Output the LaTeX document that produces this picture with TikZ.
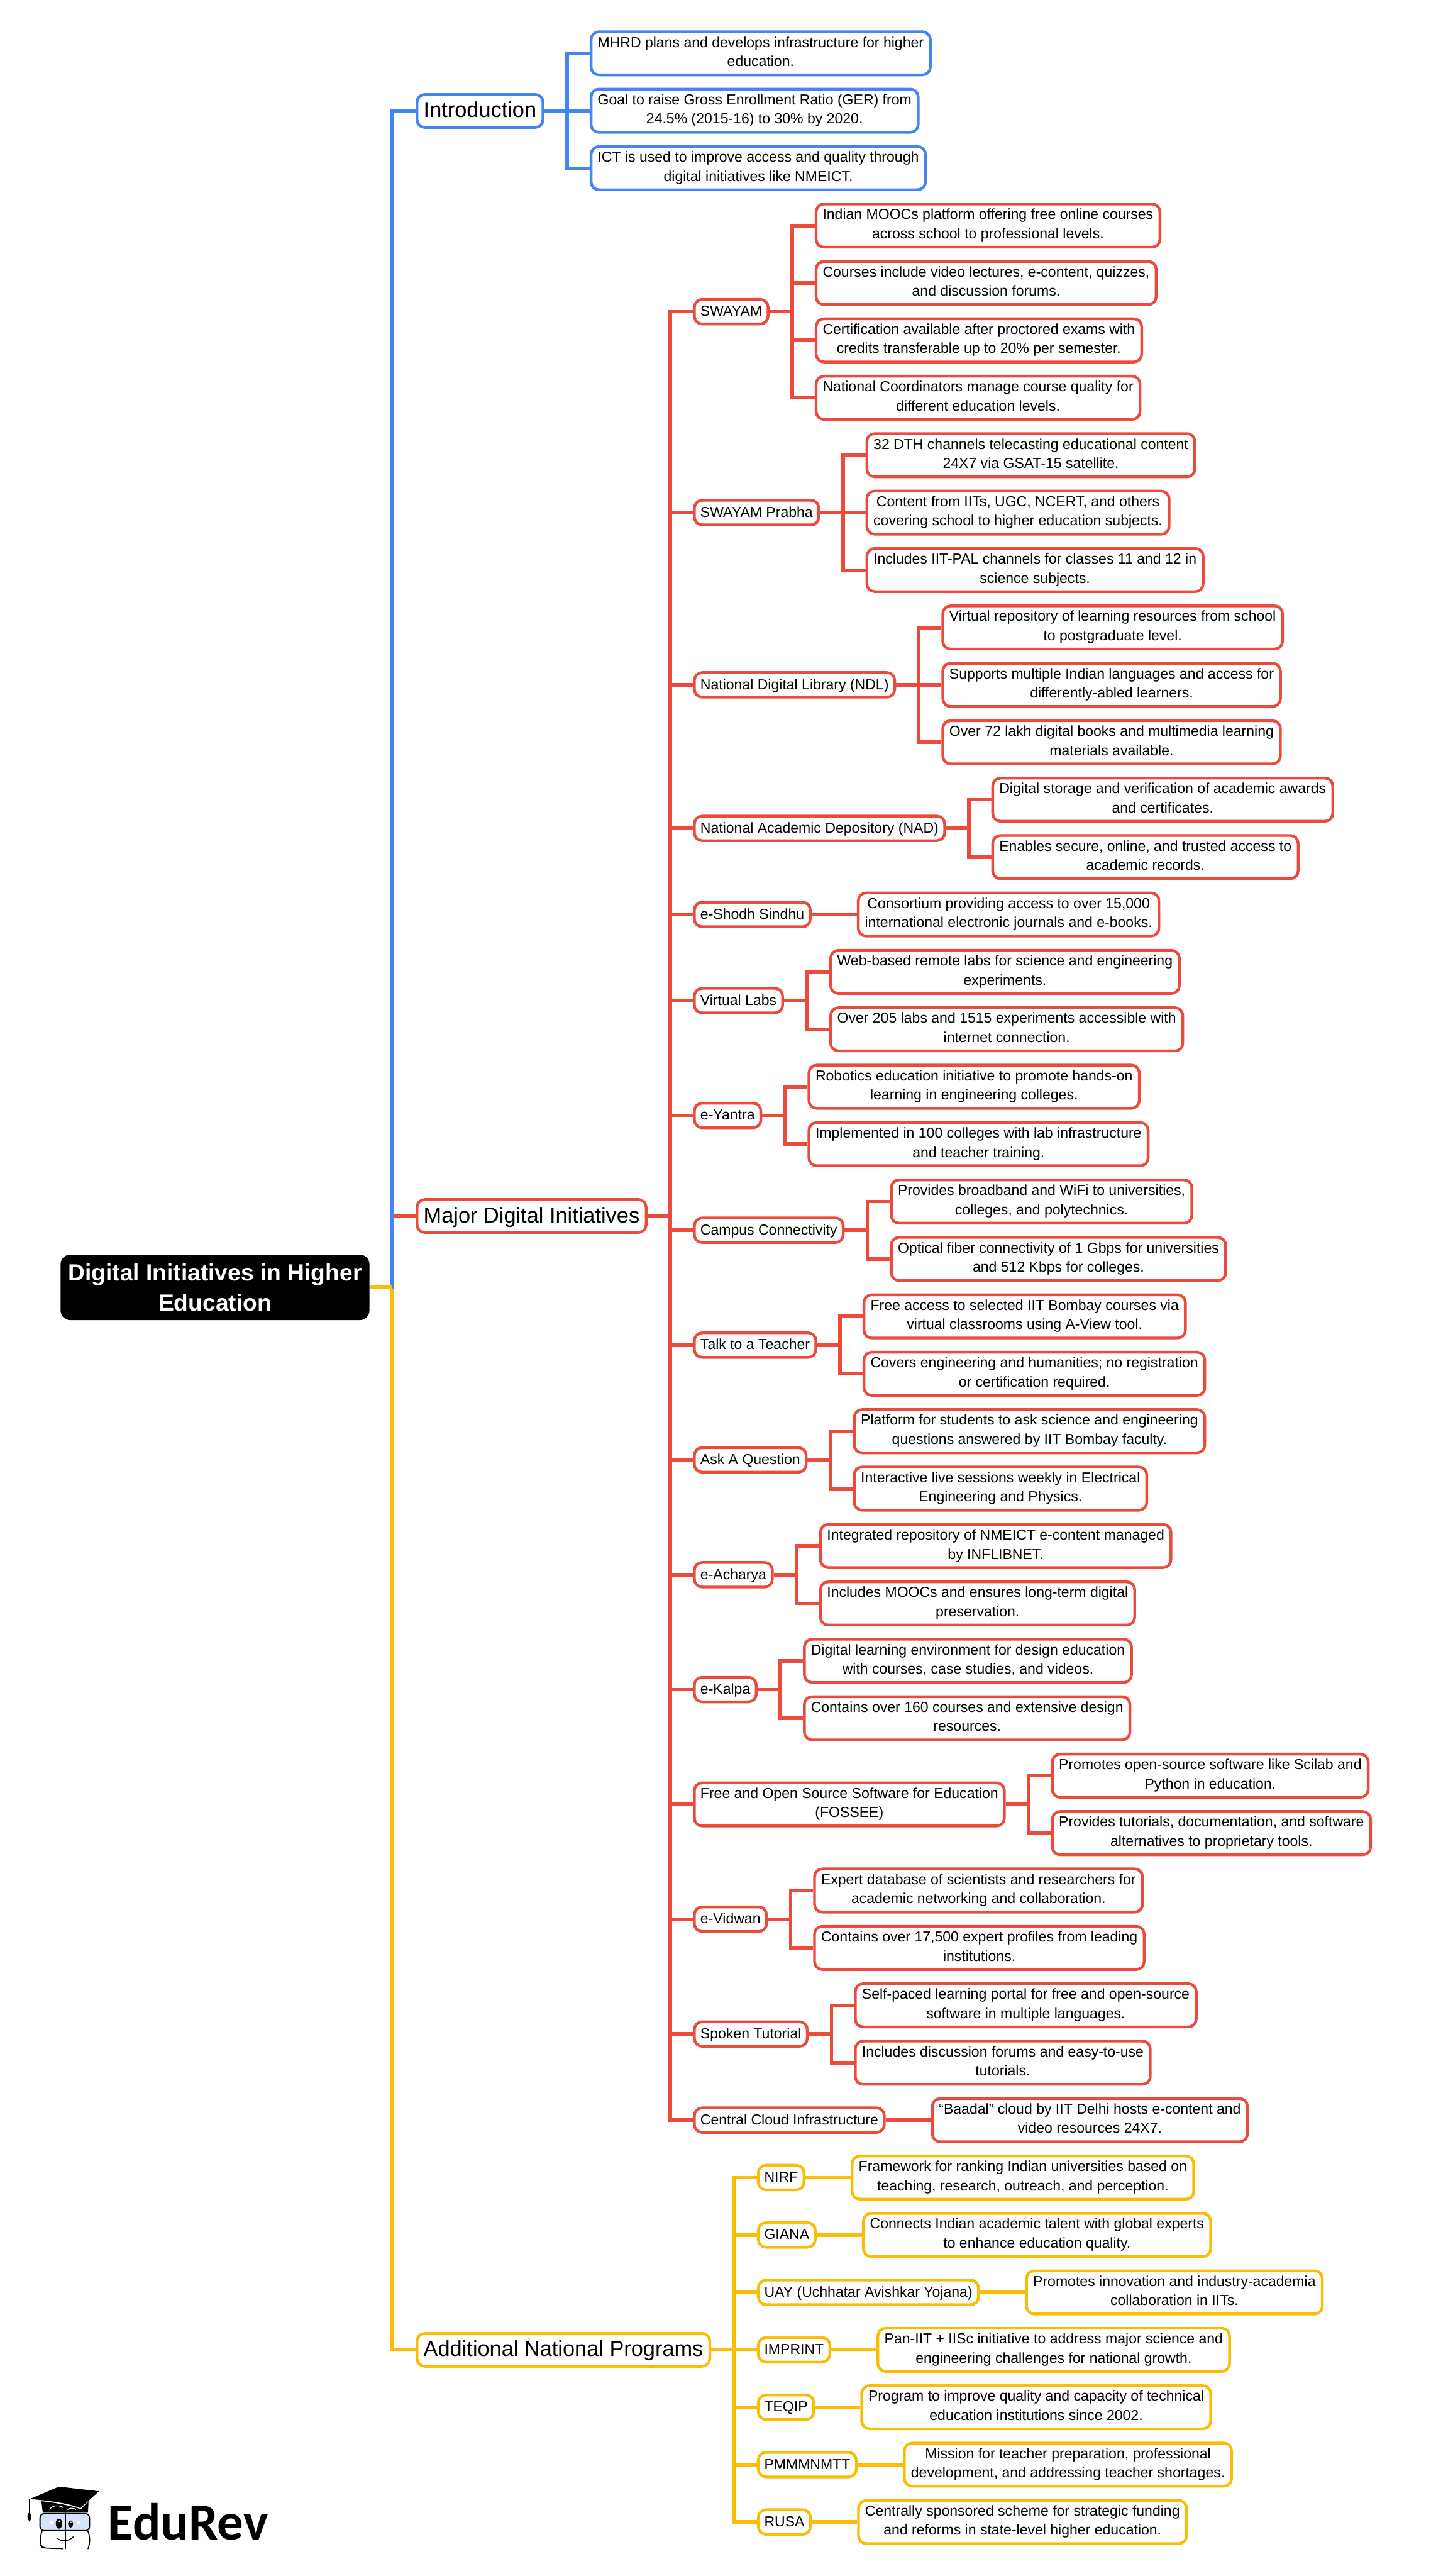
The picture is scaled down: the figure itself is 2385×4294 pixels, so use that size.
\documentclass[tikz,border=0pt]{standalone}
\usepackage{fontspec}
\setmainfont{Liberation Sans}
\newfontfamily\logofont{Carlito}
\definecolor{cblue}{HTML}{4285F4}
\definecolor{cred}{HTML}{EE4A3B}
\definecolor{cyel}{HTML}{FBBC04}
\colorlet{cur}{cred}
\tikzset{
  box/.style={draw=cur,fill=white,line width=4.6pt,rounded corners=13pt,align=center,inner xsep=11pt,inner ysep=0pt},
  leaf/.style={box,minimum height=72pt,font=\fontsize{24.15}{32}\selectfont,
    execute at begin node={\rule{0pt}{22pt}},execute at end node={\rule[-6pt]{0pt}{6pt}}},
  mid/.style={box,inner xsep=10pt,minimum height=41pt,text height=19.5pt,text depth=4.5pt,font=\fontsize{24.15}{32}\selectfont},
  midtwo/.style={leaf,inner xsep=10pt},
  top/.style={box,minimum height=55pt,text height=29pt,text depth=7pt,font=\fontsize{36}{48}\selectfont},
  conn/.style={draw=cur,line width=6pt},
  rootbox/.style={fill=black,text=white,rounded corners=16pt,align=center,minimum width=515pt,minimum height=109pt,inner sep=0pt,font=\fontsize{39}{51}\selectfont\bfseries}
}
\newcommand{\ypos}[1]{\pgfmathsetmacro\yy{376+95.7*(#1)}}
\newcommand{\topat}[3]{\node[top,anchor=west] (#1) at (693,#2) {#3};
  \draw[conn] (rootn.east) -- ++(38,0) |- (#1.west);}
\newcommand{\midat}[4][mid]{\ypos{#3}\node[#1,anchor=west] (#2) at (\topx,\yy) {#4};}
\newcommand{\leafat}[4]{\ypos{#3}
  \path (#1.east) ++(75.5,0) coordinate (t#2);
  \node[leaf,anchor=west] (#2) at (t#2 |- 0,\yy) {#4};
  \draw[conn] (#1.east) -- ++(38,0) |- (#2.west);}
\newcommand{\uplink}[2]{\draw[conn] (#1.east) -- ++(38,0) |- (#2.west);}
\begin{document}
\begin{tikzpicture}[x=1pt,y=-1pt]
\useasboundingbox (0,0) rectangle (2385,4294);
\node[rootbox] (rootn) at (358.5,2146) {Digital Initiatives in Higher\\Education};
% level one
\colorlet{cur}{cyel}\topat{add}{3917}{Additional National Programs}
\colorlet{cur}{cred}\topat{maj}{2027}{Major Digital Initiatives}
\colorlet{cur}{cblue}\topat{intro}{185}{Introduction}
\draw[conn,draw=cyel] (rootn.east) -- ++(38,0);
% introduction
\leafat{intro}{ia}{-3}{MHRD plans and develops infrastructure for higher\\education.}
\leafat{intro}{ib}{-2}{Goal to raise Gross Enrollment Ratio (GER) from\\24.5\% (2015-16) to 30\% by 2020.}
\leafat{intro}{ic}{-1}{ICT is used to improve access and quality through\\digital initiatives like NMEICT.}
% major
\colorlet{cur}{cred}
\def\topx{1155.5}
\midat{sw}{1.5}{SWAYAM}\uplink{maj}{sw}
\leafat{sw}{swa}{0}{Indian MOOCs platform offering free online courses\\across school to professional levels.}
\leafat{sw}{swb}{1}{Courses include video lectures, e-content, quizzes,\\and discussion forums.}
\leafat{sw}{swc}{2}{Certification available after proctored exams with\\credits transferable up to 20\% per semester.}
\leafat{sw}{swd}{3}{National Coordinators manage course quality for\\different education levels.}
\midat{pr}{5}{SWAYAM Prabha}\uplink{maj}{pr}
\leafat{pr}{pra}{4}{32 DTH channels telecasting educational content\\24X7 via GSAT-15 satellite.}
\leafat{pr}{prb}{5}{Content from IITs, UGC, NCERT, and others\\covering school to higher education subjects.}
\leafat{pr}{prc}{6}{Includes IIT-PAL channels for classes 11 and 12 in\\science subjects.}
\midat{ndl}{8}{National Digital Library (NDL)}\uplink{maj}{ndl}
\leafat{ndl}{ndla}{7}{Virtual repository of learning resources from school\\to postgraduate level.}
\leafat{ndl}{ndlb}{8}{Supports multiple Indian languages and access for\\differently-abled learners.}
\leafat{ndl}{ndlc}{9}{Over 72 lakh digital books and multimedia learning\\materials available.}
\midat{nad}{10.5}{National Academic Depository (NAD)}\uplink{maj}{nad}
\leafat{nad}{nada}{10}{Digital storage and verification of academic awards\\and certificates.}
\leafat{nad}{nadb}{11}{Enables secure, online, and trusted access to\\academic records.}
\midat{sh}{12}{e-Shodh Sindhu}\uplink{maj}{sh}
\leafat{sh}{sha}{12}{Consortium providing access to over 15,000\\international electronic journals and e-books.}
\midat{vl}{13.5}{Virtual Labs}\uplink{maj}{vl}
\leafat{vl}{vla}{13}{Web-based remote labs for science and engineering\\experiments.}
\leafat{vl}{vlb}{14}{Over 205 labs and 1515 experiments accessible with\\internet connection.}
\midat{ya}{15.5}{e-Yantra}\uplink{maj}{ya}
\leafat{ya}{yaa}{15}{Robotics education initiative to promote hands-on\\learning in engineering colleges.}
\leafat{ya}{yab}{16}{Implemented in 100 colleges with lab infrastructure\\and teacher training.}
\midat{ca}{17.5}{Campus Connectivity}\uplink{maj}{ca}
\leafat{ca}{caa}{17}{Provides broadband and WiFi to universities,\\colleges, and polytechnics.}
\leafat{ca}{cab}{18}{Optical fiber connectivity of 1 Gbps for universities\\and 512 Kbps for colleges.}
\midat{tt}{19.5}{Talk to a Teacher}\uplink{maj}{tt}
\leafat{tt}{tta}{19}{Free access to selected IIT Bombay courses via\\virtual classrooms using A-View tool.}
\leafat{tt}{ttb}{20}{Covers engineering and humanities; no registration\\or certification required.}
\midat{aq}{21.5}{Ask A Question}\uplink{maj}{aq}
\leafat{aq}{aqa}{21}{Platform for students to ask science and engineering\\questions answered by IIT Bombay faculty.}
\leafat{aq}{aqb}{22}{Interactive live sessions weekly in Electrical\\Engineering and Physics.}
\midat{ac}{23.5}{e-Acharya}\uplink{maj}{ac}
\leafat{ac}{aca}{23}{Integrated repository of NMEICT e-content managed\\by INFLIBNET.}
\leafat{ac}{acb}{24}{Includes MOOCs and ensures long-term digital\\preservation.}
\midat{ka}{25.5}{e-Kalpa}\uplink{maj}{ka}
\leafat{ka}{kaa}{25}{Digital learning environment for design education\\with courses, case studies, and videos.}
\leafat{ka}{kab}{26}{Contains over 160 courses and extensive design\\resources.}
\midat[midtwo]{fo}{27.5}{Free and Open Source Software for Education\\(FOSSEE)}\uplink{maj}{fo}
\leafat{fo}{foa}{27}{Promotes open-source software like Scilab and\\Python in education.}
\leafat{fo}{fob}{28}{Provides tutorials, documentation, and software\\alternatives to proprietary tools.}
\midat{vi}{29.5}{e-Vidwan}\uplink{maj}{vi}
\leafat{vi}{via}{29}{Expert database of scientists and researchers for\\academic networking and collaboration.}
\leafat{vi}{vib}{30}{Contains over 17,500 expert profiles from leading\\institutions.}
\midat{sp}{31.5}{Spoken Tutorial}\uplink{maj}{sp}
\leafat{sp}{spa}{31}{Self-paced learning portal for free and open-source\\software in multiple languages.}
\leafat{sp}{spb}{32}{Includes discussion forums and easy-to-use\\tutorials.}
\midat{cc}{33}{Central Cloud Infrastructure}\uplink{maj}{cc}
\leafat{cc}{cca}{33}{“Baadal” cloud by IIT Delhi hosts e-content and\\video resources 24X7.}
% additional
\colorlet{cur}{cyel}
\def\topx{1262}
\midat{ni}{34}{NIRF}\uplink{add}{ni}
\leafat{ni}{nia}{34}{Framework for ranking Indian universities based on\\teaching, research, outreach, and perception.}
\midat{gi}{35}{GIANA}\uplink{add}{gi}
\leafat{gi}{gia}{35}{Connects Indian academic talent with global experts\\to enhance education quality.}
\midat{ua}{36}{UAY (Uchhatar Avishkar Yojana)}\uplink{add}{ua}
\leafat{ua}{uaa}{36}{Promotes innovation and industry-academia\\collaboration in IITs.}
\midat{im}{37}{IMPRINT}\uplink{add}{im}
\leafat{im}{ima}{37}{Pan-IIT + IISc initiative to address major science and\\engineering challenges for national growth.}
\midat{te}{38}{TEQIP}\uplink{add}{te}
\leafat{te}{tea}{38}{Program to improve quality and capacity of technical\\education institutions since 2002.}
\midat{pm}{39}{PMMMNMTT}\uplink{add}{pm}
\leafat{pm}{pma}{39}{Mission for teacher preparation, professional\\development, and addressing teacher shortages.}
\midat{ru}{40}{RUSA}\uplink{add}{ru}
\leafat{ru}{rua}{40}{Centrally sponsored scheme for strategic funding\\and reforms in state-level higher education.}
% logo
\node[anchor=base west,inner sep=0pt,font=\fontsize{87}{87}\selectfont\logofont\bfseries] (logotext) at (180,4234) {EduRev};
\begin{scope}[shift={(30,4130)},x=0.3333pt,y=-0.3333pt]
  \fill[black] (58,107) -- (205,45) -- (405,68) -- (312,152) .. controls (270,135) and (200,118) .. (58,107) -- cycle;
  \fill[black] (117,118) -- (124,175) -- (350,175) -- (353,118) -- (315,158) .. controls (270,142) and (190,125) .. (117,118) -- cycle;
  \draw[white,line width=1.2pt] (158,160) .. controls (170,138) and (205,135) .. (225,150);
  \draw[white,line width=1.2pt] (248,160) .. controls (258,150) and (280,150) .. (290,160);
  \draw[black,line width=1.2pt] (55,108) -- (55,180);
  \fill[black] (55,176) .. controls (42,182) and (46,205) .. (58,221) .. controls (68,205) and (72,182) .. (55,176) -- cycle;
  \draw[black,line width=2pt,fill=cblue!22,rounded corners=7pt] (110,180) rectangle (358,265);
  \draw[black,line width=1.8pt,rounded corners=7pt] (120,268) -- (112,290) -- (112,340) -- (125,352) -- (225,355);
  \draw[black,line width=1.8pt] (350,268) .. controls (362,300) and (360,330) .. (350,357);
  \draw[white,line width=1.5pt] (230,170) -- (230,360);
  \draw[black,line width=2.6pt] (237,172) -- (237,358);
  \fill[black] (205,230) ellipse [x radius=16,y radius=25];
  \fill[black] (263,232) ellipse [x radius=13,y radius=18];
  \fill[white] (207,218) circle (4);
  \fill[white] (265,222) circle (3);
  \fill[white] (158,215) rectangle (175,232);
  \fill[white] (296,215) rectangle (313,232);
  \draw[black,line width=1.5pt] (196,302) .. controls (215,322) and (255,320) .. (277,295);
\end{scope}
\end{tikzpicture}
\end{document}
